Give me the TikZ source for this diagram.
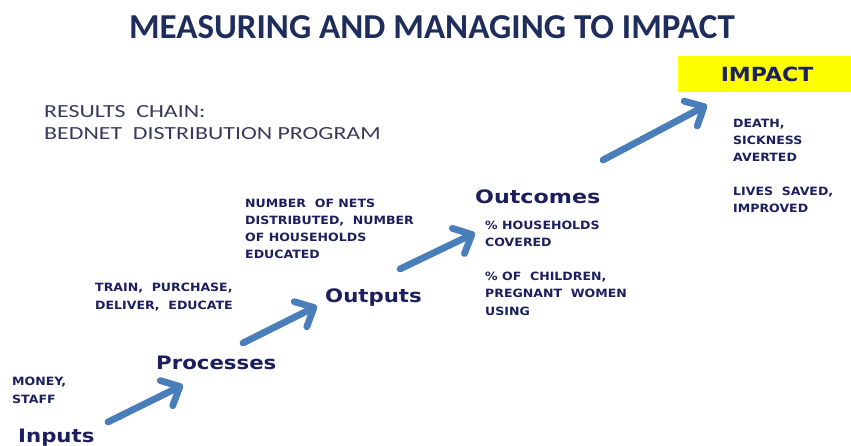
\documentclass[tikz,border=0pt]{standalone}
\usepackage{fontspec}
\setmainfont{Carlito}
\newfontfamily\stagefont{DejaVu Sans}
\usetikzlibrary{arrows.meta}
\definecolor{navy}{HTML}{1B1F5E}
\definecolor{titlenavy}{HTML}{1F2D5C}
\definecolor{slate}{HTML}{383A5C}
\definecolor{stepblue}{HTML}{4A7EBB}
\definecolor{impactyellow}{HTML}{FFFF00}
% widen a line of text horizontally
\newcommand{\wideln}[2]{\scalebox{#1}[1]{#2}}
\begin{document}
\begin{tikzpicture}[x=1pt,y=-1pt,
  title/.style={anchor=base, inner sep=0pt, text=titlenavy,
    font=\fontsize{35}{40}\selectfont\bfseries},
  heading/.style={anchor=base west, inner sep=0pt, text=slate,
    font=\fontsize{18.5}{22}\selectfont},
  stage/.style={anchor=base west, inner sep=0pt, text=navy,
    font=\stagefont\fontsize{18.5}{22}\selectfont\bfseries},
  % multi-line notes: the node's base is the baseline of the last line
  note/.style={anchor=base west, inner sep=0pt, text=navy, align=left,
    font=\stagefont\fontsize{11.4}{17.2}\selectfont\bfseries},
  steparrow/.style={draw=stepblue, line width=6.8pt, line cap=round,
    -{Straight Barb[length=15pt,width=28pt,line cap=round,line join=round]}}]
\useasboundingbox (0,0) rectangle (851,446);

% heading
\node[title] (title) at (432,39) {MEASURING AND MANAGING TO IMPACT};
\node[heading] (chain) at (44,118) {\wideln{1.29}{RESULTS\ \ CHAIN:}};
\node[heading] (program) at (44,140) {\wideln{1.29}{BEDNET\ \ DISTRIBUTION PROGRAM}};

% impact box
\fill[impactyellow] (678,56) rectangle (851,92);
\node[stage, anchor=base, font=\stagefont\fontsize{19.5}{22}\selectfont\bfseries] (impact) at (767,82) {\wideln{1.13}{IMPACT}};

% stages of the results chain
\node[stage] (inputs) at (18,442) {\wideln{1.15}{Inputs}};
\node[stage] (processes) at (156,369) {\wideln{1.15}{Processes}};
\node[stage] (outputs) at (325,302) {\wideln{1.15}{Outputs}};
\node[stage] (outcomes) at (475,204) {\wideln{1.2}{Outcomes}};

% notes for each stage
\node[note] (innote) at (12,403) {\wideln{1.1}{MONEY,}\\\wideln{1.1}{STAFF}};
\node[note] (procnote) at (95,309) {\wideln{1.1}{TRAIN,\ \ PURCHASE,}\\\wideln{1.1}{DELIVER,\ \ EDUCATE}};
\node[note] (outnote) at (245,259) {\wideln{1.1}{NUMBER\ \ OF NETS}\\\wideln{1.1}{DISTRIBUTED,\ \ NUMBER}\\\wideln{1.1}{OF HOUSEHOLDS}\\\wideln{1.1}{EDUCATED}};
\node[note] (covnote) at (485,247) {\wideln{1.1}{\% HOUSEHOLDS}\\\wideln{1.1}{COVERED}};
\node[note] (usenote) at (485,315) {\wideln{1.1}{\% OF\ \ CHILDREN,}\\\wideln{1.1}{PREGNANT\ \ WOMEN}\\\wideln{1.1}{USING}};
\node[note] (deathnote) at (733,162) {\wideln{1.1}{DEATH,}\\\wideln{1.1}{SICKNESS}\\\wideln{1.1}{AVERTED}};
\node[note] (livesnote) at (733,213) {\wideln{1.1}{LIVES\ \ SAVED,}\\\wideln{1.1}{IMPROVED}};

% arrows between stages
\coordinate (a1s) at (108,422); \coordinate (a1e) at (183,385);
\coordinate (a2s) at (243,343); \coordinate (a2e) at (317,306);
\coordinate (a3s) at (400,269); \coordinate (a3e) at (475,233);
\coordinate (a4s) at (603,160); \coordinate (a4e) at (707,105);
\draw[steparrow] (a1s) -- (a1e);
\draw[steparrow] (a2s) -- (a2e);
\draw[steparrow] (a3s) -- (a3e);
\draw[steparrow] (a4s) -- (a4e);
\end{tikzpicture}
\end{document}
